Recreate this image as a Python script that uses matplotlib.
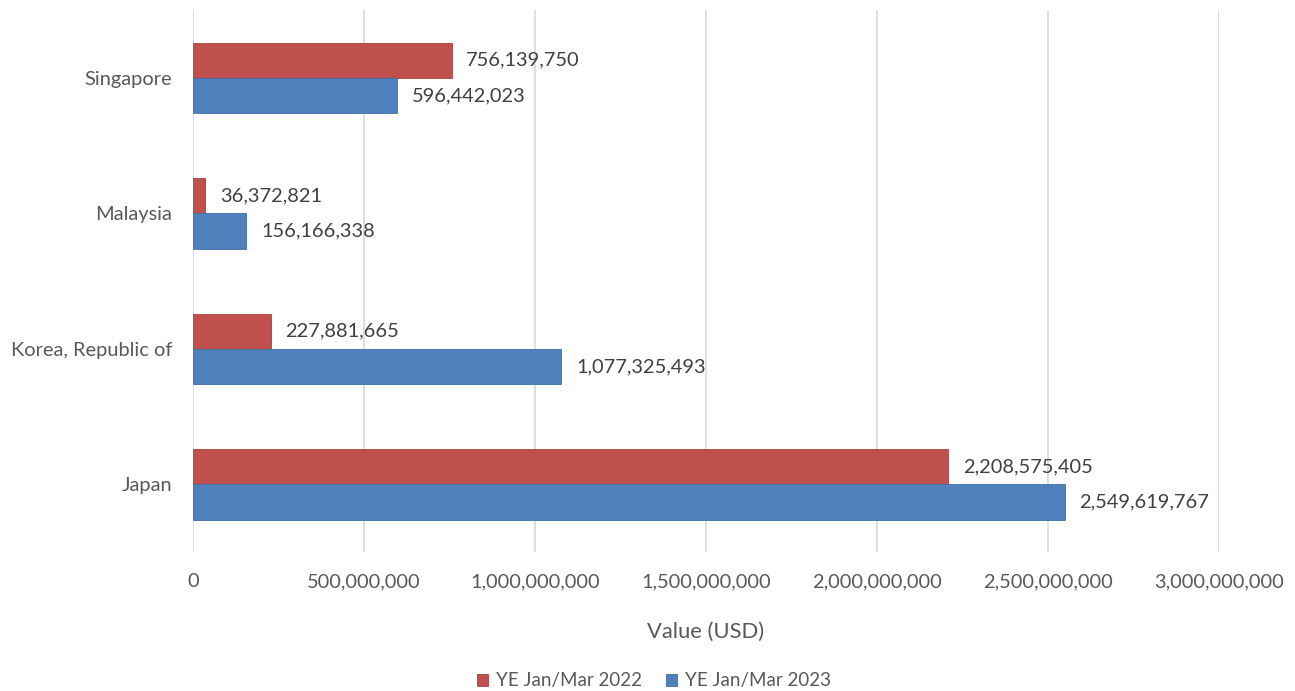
import matplotlib
matplotlib.use("Agg")
import matplotlib.pyplot as plt
from matplotlib.ticker import FuncFormatter
import numpy as np

countries = ["Japan", "Korea, Republic of", "Malaysia", "Singapore"]
ye_2022 = [2208575405, 227881665, 36372821, 756139750]
ye_2023 = [2549619767, 1077325493, 156166338, 596442023]
series_names = ["YE Jan/Mar 2022", "YE Jan/Mar 2023"]
x_ticks = [0, 500000000, 1000000000, 1500000000, 2000000000, 2500000000, 3000000000]

red = "#C0504D"
blue = "#4F81BD"
text_gray = "#595959"
grid_gray = "#D9D9D9"

plt.rcParams["font.family"] = ["Lato", "DejaVu Sans"]

fig = plt.figure(figsize=(12.95, 6.91), dpi=100)
ax = fig.add_axes([0.149, 0.201, 0.7923, 0.7845])

y = np.arange(len(countries))
h = 0.26
bars22 = ax.barh(y + h / 2, ye_2022, height=h, color=red, edgecolor="#A5403D", linewidth=0.6,
                 label=series_names[0], zorder=3)
bars23 = ax.barh(y - h / 2, ye_2023, height=h, color=blue, edgecolor="#3F6FA6", linewidth=0.6,
                 label=series_names[1], zorder=3)

for bars, vals in ((bars22, ye_2022), (bars23, ye_2023)):
    for b, v in zip(bars, vals):
        ax.annotate(f"{v:,}", (v, b.get_y() + b.get_height() / 2),
                    xytext=(10.5, 0), textcoords="offset points", va="center", ha="left",
                    fontsize=14.4, color="#404040")

ax.set_xlim(0, 3000000000)
ax.set_ylim(-0.5, 3.5)
ax.set_xticks(x_ticks)
ax.xaxis.set_major_formatter(FuncFormatter(lambda v, p: f"{int(v):,}"))
ax.set_yticks(y)
ax.set_yticklabels(countries)
ax.tick_params(axis="both", length=0, labelsize=14.4, labelcolor=text_gray)
ax.tick_params(axis="x", pad=15)
ax.tick_params(axis="y", pad=15)

ax.grid(axis="x", color=grid_gray, linewidth=1.2, zorder=0)
ax.grid(axis="y", visible=False)
for s in ax.spines.values():
    s.set_visible(False)

ax.set_xlabel("Value (USD)", fontsize=15.8, color=text_gray, labelpad=23)

handles = [bars22, bars23]
fig.legend(handles, series_names, loc="lower center", bbox_to_anchor=(0.505, -0.022), ncol=2,
           frameon=False, fontsize=13.5, handlelength=0.6, handleheight=0.6, handletextpad=0.4,
           columnspacing=1.3, labelcolor=text_gray)

fig.savefig("out.png", dpi=100, facecolor="white")
